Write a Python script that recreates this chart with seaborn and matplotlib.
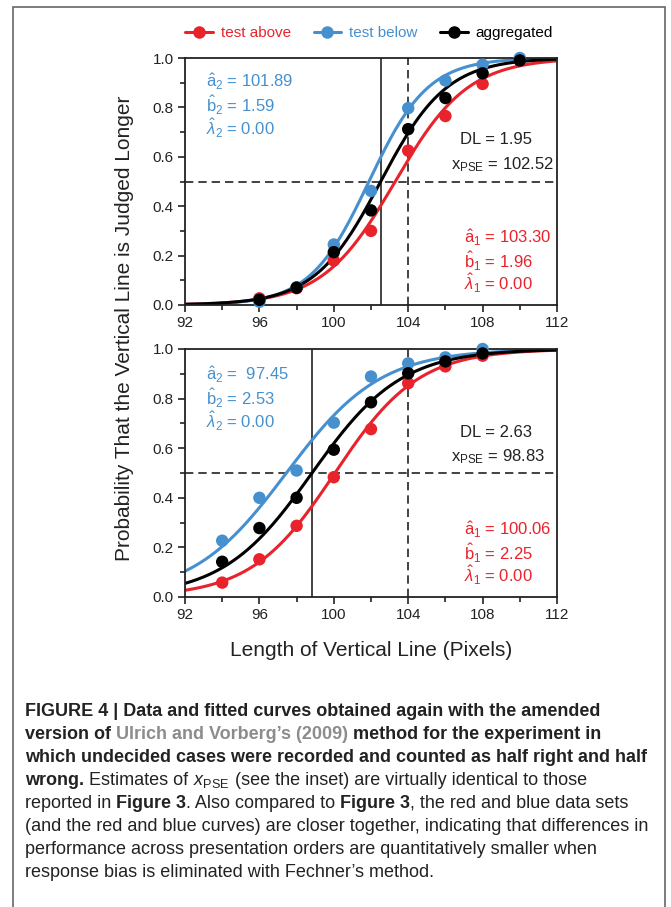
import numpy as np
import pandas as pd
import seaborn as sns
import matplotlib.pyplot as plt
from matplotlib.lines import Line2D
from matplotlib.patches import Rectangle
from matplotlib.ticker import MultipleLocator

sns.set_style('ticks')
plt.rcParams['font.family'] = ['Liberation Sans', 'DejaVu Sans']
plt.rcParams['mathtext.fontset'] = 'custom'
plt.rcParams['mathtext.rm'] = 'Liberation Sans'
plt.rcParams['mathtext.it'] = 'Liberation Sans:italic'
plt.rcParams['mathtext.bf'] = 'Liberation Sans:bold'

W, H = 671, 907

# данные: верхняя панель
x_top = [96, 98, 100, 102, 104, 106, 108, 110]
above_top = [0.027, 0.068, 0.18, 0.30, 0.625, 0.765, 0.895, 0.99]
below_top = [0.013, 0.072, 0.245, 0.462, 0.797, 0.909, 0.973, 1.0]
agg_top = [0.021, 0.070, 0.214, 0.383, 0.712, 0.838, 0.938, 0.99]
# данные: нижняя панель
x_bot = [94, 96, 98, 100, 102, 104, 106, 108]
above_bot = [0.058, 0.152, 0.287, 0.483, 0.677, 0.862, 0.93, 0.973]
below_bot = [0.227, 0.40, 0.51, 0.703, 0.889, 0.942, 0.966, 1.0]
agg_bot = [0.142, 0.278, 0.40, 0.594, 0.785, 0.902, 0.95, 0.982]

# параметры подогнанных кривых (a, b)
fit_top = {'test above': (103.30, 1.96), 'test below': (101.89, 1.59), 'aggregated': (102.52, 1.78)}
fit_bot = {'test above': (100.06, 2.25), 'test below': (97.45, 2.53), 'aggregated': (98.83, 2.40)}
pse_top, pse_bot = 102.52, 98.83
standard = 104

series = ['test above', 'test below', 'aggregated']
colors = {'test above': '#e8232b', 'test below': '#4690d0', 'aggregated': '#000000'}


def curve_frame(fits):
    xs = np.linspace(92, 112, 300)
    rows = []
    for name in series:
        a, b = fits[name]
        p = 1.0 / (1.0 + np.exp(-(xs - a) / b))
        rows.append(pd.DataFrame({'x': xs, 'p': p, 'series': name}))
    return pd.concat(rows)


def point_frame(xs, above, below, agg):
    return pd.concat([
        pd.DataFrame({'x': xs, 'p': above, 'series': 'test above'}),
        pd.DataFrame({'x': xs, 'p': below, 'series': 'test below'}),
        pd.DataFrame({'x': xs, 'p': agg, 'series': 'aggregated'}),
    ])


def panel(ax, pts, fits, pse):
    ax.axvline(pse, color='#222', lw=1.2, zorder=1)
    ax.axvline(standard, color='#222', lw=1.2, ls=(0, (5, 3)), zorder=1)
    ax.axhline(0.5, color='#222', lw=1.2, ls=(0, (5, 3)), zorder=1)
    sns.lineplot(data=curve_frame(fits), x='x', y='p', hue='series', hue_order=series,
                 palette=colors, lw=2.2, legend=False, ax=ax, zorder=2)
    sns.scatterplot(data=pts, x='x', y='p', hue='series', hue_order=series,
                    palette=colors, s=80, edgecolor='none', legend=False, ax=ax,
                    zorder=3, clip_on=False)
    ax.set_xlim(92, 112)
    ax.set_ylim(0, 1)
    ax.set_xticks(range(92, 113, 4))
    ax.set_yticks(np.arange(0, 1.01, 0.2))
    ax.xaxis.set_minor_locator(MultipleLocator(2))
    ax.yaxis.set_minor_locator(MultipleLocator(0.1))
    ax.tick_params(which='major', direction='out', length=5, width=1.2, color='#222',
                   labelsize=11, labelcolor='#222', pad=3)
    ax.tick_params(which='minor', direction='out', length=3.5, width=1.2, color='#222')
    ax.set_xlabel('')
    ax.set_ylabel('')
    for s in ax.spines.values():
        s.set_linewidth(1.3)
        s.set_color('#222')
        s.set_visible(True)


fig = plt.figure(figsize=(W / 100, H / 100), dpi=100)
ax1 = fig.add_axes([185 / W, 1 - 305 / H, 372 / W, 247 / H])
ax2 = fig.add_axes([185 / W, 1 - 597 / H, 372 / W, 248 / H])

panel(ax1, point_frame(x_top, above_top, below_top, agg_top), fit_top, pse_top)
panel(ax2, point_frame(x_bot, above_bot, below_bot, agg_bot), fit_bot, pse_bot)


def ftext(xp, yp, s, color='#222', ha='left', size=12, **kw):
    return fig.text(xp / W, 1 - yp / H, s, color=color, ha=ha, va='center', fontsize=size, **kw)


# надписи верхней панели
ftext(206, 82, r'$\hat{\mathrm{a}}_2$ = 101.89', colors['test below'])
ftext(206, 105, r'$\hat{\mathrm{b}}_2$ = 1.59', colors['test below'])
ftext(206, 128, r'$\hat{\lambda}_2$ = 0.00', colors['test below'])
ftext(460, 140, 'DL = 1.95')
ftext(554, 165, r'x$_{\mathrm{PSE}}$ = 102.52', ha='right')
ftext(464, 238, r'$\hat{\mathrm{a}}_1$ = 103.30', colors['test above'])
ftext(464, 261, r'$\hat{\mathrm{b}}_1$ = 1.96', colors['test above'])
ftext(464, 283, r'$\hat{\lambda}_1$ = 0.00', colors['test above'])
# надписи нижней панели
ftext(206, 375, r'$\hat{\mathrm{a}}_2$ =  97.45', colors['test below'])
ftext(206, 398, r'$\hat{\mathrm{b}}_2$ = 2.53', colors['test below'])
ftext(206, 421, r'$\hat{\lambda}_2$ = 0.00', colors['test below'])
ftext(460, 432, 'DL = 2.63')
ftext(545, 457, r'x$_{\mathrm{PSE}}$ = 98.83', ha='right')
ftext(464, 530, r'$\hat{\mathrm{a}}_1$ = 100.06', colors['test above'])
ftext(464, 553, r'$\hat{\mathrm{b}}_1$ = 2.25', colors['test above'])
ftext(464, 575, r'$\hat{\lambda}_1$ = 0.00', colors['test above'])

# подписи осей
fig.text(125 / W, 1 - 328 / H, 'Probability That the Vertical Line is Judged Longer',
         rotation=90, ha='center', va='center', fontsize=15, color='#222')
fig.text(371 / W, 1 - 650 / H, 'Length of Vertical Line (Pixels)',
         ha='center', va='center', fontsize=15, color='#222')

# легенда
handles = [Line2D([], [], color=colors[n], lw=2.2, marker='o', markersize=8) for n in series]
leg = fig.legend(handles, series, loc='center', bbox_to_anchor=(369 / W, 1 - 33 / H), ncol=3,
                 frameon=False, fontsize=11, handlelength=1.8, handletextpad=0.5,
                 columnspacing=1.5)
for t, n in zip(leg.get_texts(), series):
    t.set_color(colors[n])

# рамка
fig.patches.append(Rectangle((13 / W, -0.05), 652 / W, 1.05 - 7 / H, transform=fig.transFigure,
                             fill=False, edgecolor='#666', lw=1.2))

# подпись к рисунку
B = dict(fontweight='bold', color='#222')
N = dict(color='#222')
G = dict(fontweight='bold', color='#8c8c8c')
caption = [
    [('FIGURE 4 | Data and fitted curves obtained again with the amended', B)],
    [('version of ', B), ('Ulrich and Vorberg\u2019s (2009)', G), (' method for the experiment in', B)],
    [('which undecided cases were recorded and counted as half right and half', B)],
    [('wrong.', B), (' Estimates of ', N), (r'$x_{\mathrm{PSE}}$', N),
     (' (see the inset) are virtually identical to those', N)],
    [('reported in ', N), ('Figure 3', B), ('. Also compared to ', N), ('Figure 3', B),
     (', the red and blue data sets', N)],
    [('(and the red and blue curves) are closer together, indicating that differences in', N)],
    [('performance across presentation orders are quantitatively smaller when', N)],
    [('response bias is eliminated with Fechner\u2019s method.', N)],
]
cap_size = 13
renderer = fig.canvas.get_renderer()
for i, parts in enumerate(caption):
    xp = 25
    yp = 716 + i * 23
    for txt, kw in parts:
        t = fig.text(xp / W, 1 - yp / H, txt, ha='left', va='baseline', fontsize=cap_size, **kw)
        bb = t.get_window_extent(renderer)
        xp = bb.x1

fig.savefig('out.png', dpi=100)
